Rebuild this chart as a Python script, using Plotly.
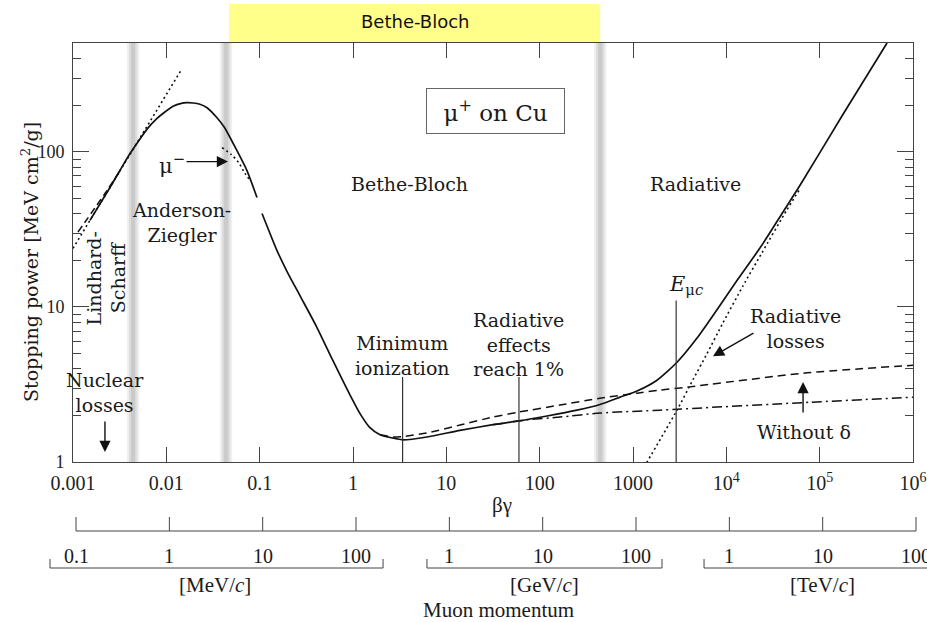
import numpy as np
import plotly.graph_objects as go

# ---------------- data ----------------
# Stopping power of mu+ on Cu [MeV cm^2/g] versus beta*gamma
# Anderson-Ziegler / Lindhard part (solid)
low_bg = [0.00152, 0.00249, 0.00318, 0.00408, 0.0052, 0.00637, 0.0078, 0.0092, 0.0118, 0.0145, 0.01664, 0.0195,
          0.0229, 0.0273, 0.0347, 0.042, 0.0571, 0.0731, 0.0936]
low_S = [36.2, 59.0, 75.9, 97.7, 121, 143, 163, 177, 197, 206, 208, 207,
         203, 193, 167, 144, 102, 75.9, 50.9]
# Bethe-Bloch + radiative part (solid)
main_bg = [0.106, 0.153, 0.196, 0.271, 0.41, 0.61, 0.93, 1.19, 1.5, 1.95, 2.96, 3.4, 6.21, 14.0, 31.6, 60, 120,
           251, 443, 726, 1104, 1807, 2965, 4853, 7946, 1.30e4, 2.4e4, 4.05e4, 6.16e4, 1.78e5, 5.27e5]
main_S = [40.1, 23.2, 17.0, 11.8, 7.4, 4.5, 2.70, 2.05, 1.68, 1.50, 1.41, 1.39, 1.45, 1.60, 1.74, 1.84, 1.98,
          2.16, 2.35, 2.62, 2.87, 3.37, 4.4, 6.3, 9.6, 14.8, 25, 41, 61, 175, 505]
# ionization without density effect (dashed)
nodelta_bg = [1.95, 2.69, 3.4, 6.21, 14, 31.6, 60, 165, 443, 1104, 1945, 3800, 6.6e4, 1e6]
nodelta_S = [1.50, 1.45, 1.46, 1.54, 1.73, 1.95, 2.10, 2.33, 2.58, 2.78, 2.91, 3.04, 3.74, 4.21]
# ionization only, with density effect (dash-dot)
ion_bg = [31.6, 73, 165, 443, 1945, 2950, 7.9e4, 1e6]
ion_S = [1.74, 1.87, 1.95, 2.07, 2.16, 2.19, 2.43, 2.62]
# radiative losses (dotted)
rad_bg = [1400, 2950, 4395, 6210, 9200, 1.51e4, 2.4e4, 4.47e4, 6.0e4]
rad_S = [0.99, 2.15, 3.4, 5.0, 7.9, 13.7, 22.3, 42.5, 56.5]
# Lindhard-Scharff extrapolation (dotted) and low-energy dashed curve
ls_bg = [0.001, 0.0147]
ls_S = [23.9, 344]
lowdash_bg = [0.00113, 0.0022, 0.0032]
lowdash_S = [30.4, 54, 75.9]
# mu- curve near the peak (dotted)
mum_bg = [0.0395, 0.05, 0.06, 0.0697, 0.08]
mum_S = [106.7, 96, 85, 72.6, 65]

# vertical markers: minimum ionization, radiative effects 1 %, critical energy
marker_bg = [3.4, 60, 2900]
marker_top = [3.53, 3.53, 11.0]
# grey region boundaries
band_bg = [0.0044, 0.0436, 445]
bethe_bloch_span = [0.047, 445]

# axis ticks
xtick_vals = [1e-3, 1e-2, 1e-1, 1, 10, 100, 1000, 1e4, 1e5, 1e6]
xtick_text = ["0.001", "0.01", "0.1", "1", "10", "100", "1000",
              "10<sup>4</sup>", "10<sup>5</sup>", "10<sup>6</sup>"]
ytick_vals = [1, 10, 100]
ytick_text = ["1", "10", "100"]
yminor_vals = [2, 3, 4, 5, 6, 7, 8, 9, 20, 30, 40, 50, 60, 70, 80, 90, 200, 300, 400, 500]

# muon momentum scale (GeV/c) and labels
mom_p_gev = [1e-4, 1e-3, 1e-2, 1e-1, 1, 10, 100, 1e3, 1e4, 1e5]
mom_text = ["0.1", "1", "10", "100", "1", "10", "100", "1", "10", "100"]
MOM_SCALE_GEV = 0.0928  # momentum per unit beta*gamma on the drawn scale
mom_units = ["[MeV/<i>c</i>]", "[GeV/<i>c</i>]", "[TeV/<i>c</i>]"]
mom_groups_bg = [[0.000567, 2.10], [6.2, 2045], [5770, 1.95e6]]
mom_units_bg = [0.0332, 114, 1.06e5]

# ---------------- figure ----------------
W, H = 927, 622
ML, MR, MT, MB = 73, 14, 43, 160
PH = H - MT - MB
XMIN, XMAX = -3, 6


def py(p):
    """pixel row -> paper y"""
    return (H - MB - p) / PH


def lg(v):
    return float(np.log10(v))


def xp(v):
    """beta*gamma value -> paper x through the log axis range"""
    return (lg(v) - XMIN) / (XMAX - XMIN)


INK = "#111111"
AX = "#444444"
SERIF = "DejaVu Serif"
NUM = "Liberation Serif"

fig = go.Figure()

# grey shaded region boundaries
for c in band_bg:
    for hw, col in [(0.066, "#efefef"), (0.045, "#dedede"), (0.024, "#cbcbcb")]:
        fig.add_shape(type="rect", xref="x", yref="paper", x0=c * 10 ** -hw, x1=c * 10 ** hw,
                      y0=0, y1=1, fillcolor=col, line_width=0, layer="below")

# yellow Bethe-Bloch banner
fig.add_shape(type="rect", xref="x", yref="paper", x0=bethe_bloch_span[0], x1=bethe_bloch_span[1],
              y0=1.0, y1=py(4), fillcolor="#ffff8a", line_width=0, layer="below")
fig.add_annotation(x=lg(4.6), y=py(22), xref="x", yref="paper", text="Bethe-Bloch",
                   xanchor="center", yanchor="middle",
                   showarrow=False, font=dict(family="DejaVu Sans", size=18, color="#111"))


def line(x, y, dash="solid", width=1.7):
    fig.add_trace(go.Scatter(x=x, y=y, mode="lines", hoverinfo="skip", showlegend=False,
                             line=dict(color=INK, width=width, dash=dash, shape="spline", smoothing=0.6)))


line(low_bg, low_S)
line(main_bg, main_S)
line(nodelta_bg, nodelta_S, dash="8px,5px", width=1.5)
line(ion_bg, ion_S, dash="10px,4px,2px,4px", width=1.5)
line(rad_bg, rad_S, dash="2px,3px", width=1.6)
line(ls_bg, ls_S, dash="2px,3px", width=1.6)
line(lowdash_bg, lowdash_S, dash="7px,4px", width=1.5)
line(mum_bg, mum_S, dash="2px,3px", width=1.6)

# vertical marker lines
mx, my = [], []
for b, t in zip(marker_bg, marker_top):
    mx += [b, b, None]
    my += [1, t, None]
fig.add_trace(go.Scatter(x=mx, y=my, mode="lines", hoverinfo="skip", showlegend=False,
                         line=dict(color="#333333", width=1.2)))


# ---------------- text labels ----------------
def txt(xv, yv, s, size=19, family=SERIF, angle=0):
    fig.add_annotation(x=lg(xv), y=lg(yv), text=s, showarrow=False, textangle=angle,
                       xanchor="center", yanchor="middle",
                       font=dict(family=family, size=size, color="#1a1a1a"))


txt(4.08, 62.6, "Bethe-Bloch")
txt(4730, 62.6, "Radiative")
txt(0.0147, 35.1, "Anderson-<br>Ziegler")
txt(0.00226, 15.3, "Lindhard-<br>Scharff", angle=-90)
txt(3.4, 4.9, "Minimum<br>ionization")
txt(60, 5.7, "Radiative<br>effects<br>reach 1%")
txt(5.45e4, 7.3, "Radiative<br>losses")
txt(6.8e4, 1.56, "Without δ")
txt(0.0022, 2.82, "Nuclear<br>losses")
txt(3700, 13.8, "<i>E</i><sub>μ<i>c</i></sub>", size=21)
txt(0.0115, 84, "μ<sup>−</sup>", size=21)

fig.add_annotation(x=lg(33.3), y=lg(185), text="μ<sup>+</sup> on Cu", showarrow=False,
                   xanchor="center", yanchor="middle",
                   font=dict(family=SERIF, size=23, color="#1a1a1a"), bordercolor="#666",
                   borderwidth=1, borderpad=0, width=137, height=44, bgcolor="white")


def arrow(xv, yv, ax, ay):
    fig.add_annotation(x=lg(xv), y=lg(yv), text="", showarrow=True, ax=ax, ay=ay,
                       arrowhead=2, arrowsize=1.6, arrowwidth=1.4, arrowcolor=INK, standoff=0)


arrow(0.0022, 1.16, 0, -32)
arrow(0.0458, 86.7, -43, 0)
arrow(7190, 4.81, 42, -24)
arrow(6.64e4, 3.28, 0, 32)

# x axis title
fig.add_annotation(x=xp(39.5), y=py(505), xref="paper", yref="paper", text="βγ", showarrow=False,
                   xanchor="center", yanchor="middle",
                   font=dict(family=NUM, size=21, color="#1a1a1a"))
# y axis title
fig.add_annotation(x=(30 - ML) / (W - ML - MR), y=py(262), xref="paper", yref="paper",
                   text="Stopping power [MeV cm<sup>2</sup>/g]", showarrow=False, textangle=-90,
                   xanchor="center", yanchor="middle",
                   font=dict(family=SERIF, size=19, color="#1a1a1a"))

# ---------------- momentum scale below ----------------
mom_bg = [p / MOM_SCALE_GEV for p in mom_p_gev]
fig.add_shape(type="line", xref="paper", yref="paper", x0=xp(mom_bg[0]), x1=xp(mom_bg[-1]),
              y0=py(531), y1=py(531), line=dict(color=AX, width=1))
for b, s in zip(mom_bg, mom_text):
    fig.add_shape(type="line", xref="paper", yref="paper", x0=xp(b), x1=xp(b), y0=py(531), y1=py(517),
                  line=dict(color=AX, width=1))
    fig.add_annotation(x=xp(b), y=py(556), xref="paper", yref="paper", text=s, showarrow=False,
                       xanchor="center", yanchor="middle",
                       font=dict(family=NUM, size=20, color="#1a1a1a"))
for (a, b), u, ub in zip(mom_groups_bg, mom_units, mom_units_bg):
    fig.add_shape(type="line", xref="paper", yref="paper", x0=xp(a), x1=xp(b), y0=py(568), y1=py(568),
                  line=dict(color=AX, width=1))
    for e in (a, b):
        fig.add_shape(type="line", xref="paper", yref="paper", x0=xp(e), x1=xp(e), y0=py(568), y1=py(559),
                      line=dict(color=AX, width=1))
    fig.add_annotation(x=xp(ub), y=py(585), xref="paper", yref="paper", text=u, showarrow=False,
                       xanchor="center", yanchor="middle",
                       font=dict(family=NUM, size=21, color="#1a1a1a"))
fig.add_annotation(x=xp(35.8), y=py(610), xref="paper", yref="paper", text="Muon momentum",
                   xanchor="center", yanchor="middle",
                   showarrow=False, font=dict(family=NUM, size=21, color="#1a1a1a"))

# ---------------- layout ----------------
fig.update_layout(width=W, height=H, margin=dict(l=ML, r=MR, t=MT, b=MB, autoexpand=False),
                  paper_bgcolor="white", plot_bgcolor="white", showlegend=False,
                  font=dict(family=SERIF, color="#1a1a1a", size=19))
fig.update_xaxes(type="log", range=[XMIN, XMAX], tickmode="array", tickvals=xtick_vals, ticktext=xtick_text,
                 ticks="inside", ticklen=15, tickwidth=1, tickcolor=AX, showline=True, linecolor=AX,
                 linewidth=1, mirror="ticks", showgrid=False, zeroline=False,
                 tickfont=dict(family=NUM, size=20, color="#222"), ticklabelstandoff=3,
                 ticklabeloverflow="allow", automargin=False)
fig.update_yaxes(type="log", range=[0, 2.703], tickmode="array", tickvals=ytick_vals, ticktext=ytick_text,
                 ticks="inside", ticklen=16, tickwidth=1, tickcolor=AX, showline=True, linecolor=AX,
                 linewidth=1, mirror="ticks", showgrid=False, zeroline=False,
                 minor=dict(tickmode="array", tickvals=yminor_vals, ticks="inside", ticklen=8,
                            tickcolor=AX, tickwidth=1, showgrid=False),
                 tickfont=dict(family=NUM, size=18, color="#222"), ticklabelstandoff=4,
                 automargin=False)

fig.write_html("out.html", config={"displayModeBar": False},
               post_script="document.body.style.margin='0px';")
